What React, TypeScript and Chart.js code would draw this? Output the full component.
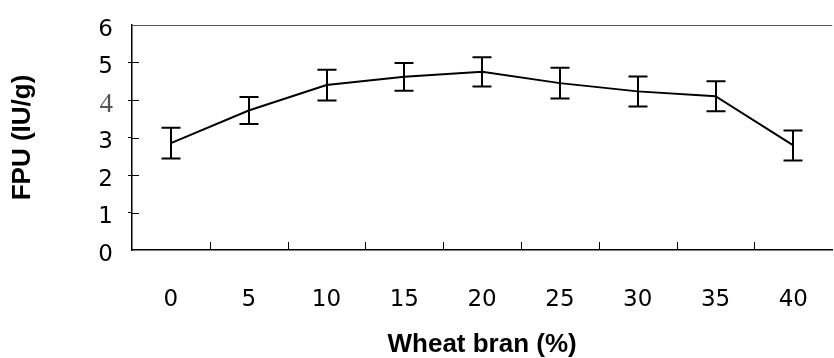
import React, { useEffect, useRef } from 'react';
import { Chart, registerables } from 'chart.js';

Chart.register(...registerables);

const categories = ['0', '5', '10', '15', '20', '25', '30', '35', '40'];
const fpuMeans = [2.85, 3.72, 4.4, 4.62, 4.75, 4.45, 4.23, 4.1, 2.79];
const fpuErrors = [0.41, 0.36, 0.41, 0.37, 0.39, 0.41, 0.4, 0.4, 0.4];
const yTickValues = [0, 1, 2, 3, 4, 5, 6];
const xTitle = 'Wheat bran (%)';
const yTitle = 'FPU (IU/g)';

const SANS = '"Liberation Sans", Arial, sans-serif';
const TICK_SANS = '"DejaVu Sans", "Liberation Sans", Arial, sans-serif';
const SERIF = '"Liberation Serif", "Times New Roman", serif';

const decorPlugin = {
  id: 'decor',
  afterDatasetsDraw(chart: any) {
    const { ctx, chartArea, scales } = chart;
    const x = scales.x;
    const y = scales.y;
    ctx.save();
    // top border
    ctx.strokeStyle = '#555';
    ctx.lineWidth = 1;
    ctx.beginPath();
    ctx.moveTo(chartArea.left, Math.round(chartArea.top) + 0.5);
    ctx.lineTo(chartArea.right, Math.round(chartArea.top) + 0.5);
    ctx.stroke();
    // inner ticks
    ctx.strokeStyle = '#000';
    ctx.beginPath();
    for (let i = 1; i < categories.length; i++) {
      const px = Math.round((x.getPixelForValue(i - 1) + x.getPixelForValue(i)) / 2) + 0.5;
      ctx.moveTo(px, chartArea.bottom);
      ctx.lineTo(px, chartArea.bottom - 8);
    }
    yTickValues.forEach((v) => {
      if (v === 0 || v === 6) return;
      const py = Math.round(y.getPixelForValue(v)) + 0.5;
      ctx.moveTo(chartArea.left, py);
      ctx.lineTo(chartArea.left + 7, py);
    });
    ctx.stroke();
    // error bars
    ctx.lineWidth = 2;
    ctx.beginPath();
    fpuMeans.forEach((m, i) => {
      const px = Math.round(x.getPixelForValue(i));
      const top = y.getPixelForValue(m + fpuErrors[i]);
      const bot = y.getPixelForValue(m - fpuErrors[i]);
      ctx.moveTo(px, top);
      ctx.lineTo(px, bot);
      ctx.moveTo(px - 9.5, top);
      ctx.lineTo(px + 9.5, top);
      ctx.moveTo(px - 9.5, bot);
      ctx.lineTo(px + 9.5, bot);
    });
    ctx.stroke();
    ctx.restore();
  },
};

export default function App() {
  const canvasRef = useRef<HTMLCanvasElement | null>(null);

  useEffect(() => {
    const canvas = canvasRef.current;
    if (!canvas) return;
    const chart = new Chart(canvas, {
      type: 'line',
      data: {
        labels: categories,
        datasets: [
          {
            data: fpuMeans,
            borderColor: '#000',
            borderWidth: 2,
            pointRadius: 0,
            tension: 0,
            fill: false,
          },
        ],
      },
      options: {
        animation: false,
        responsive: false,
        maintainAspectRatio: false,
        layout: { padding: { top: 17, right: 1, left: 0, bottom: 0 } },
        plugins: {
          legend: { display: false },
          tooltip: { enabled: false },
        },
        scales: {
          x: {
            type: 'category',
            offset: true,
            grid: { display: false, drawTicks: false, offset: true },
            border: { display: true, color: '#000', width: 1.5 },
            ticks: {
              padding: 36,
              color: '#000',
              maxRotation: 0,
              autoSkip: false,
              font: { family: TICK_SANS, size: 23 },
            },
            title: {
              display: true,
              text: xTitle,
              color: '#000',
              font: { family: SANS, size: 26, weight: 'bold', lineHeight: 1 },
              padding: { top: 0, bottom: 0 },
            },
            afterFit: (s: any) => {
              s.height = 108;
            },
          },
          y: {
            min: 0,
            max: 6,
            afterBuildTicks: (s: any) => {
              s.ticks = yTickValues.map((v) => ({ value: v }));
            },
            grid: {
              drawOnChartArea: false,
              drawTicks: true,
              tickLength: 4,
              color: (c: any) =>
                c.tick && (c.tick.value === 0 || c.tick.value === 6) ? 'rgba(0,0,0,0)' : '#000',
            },
            border: { display: true, color: '#000', width: 1.5 },
            ticks: {
              padding: 15,
              callback: (v: any) => ['', String(v)],
              color: (c: any) => (c.tick && c.tick.value === 4 ? '#555' : '#000'),
              font: (c: any) =>
                c.tick && c.tick.value === 4
                  ? { family: SERIF, size: 27, lineHeight: '10px' }
                  : { family: TICK_SANS, size: 23, lineHeight: '10px' },
            },
            title: {
              display: true,
              text: yTitle,
              color: '#000',
              font: { family: SANS, size: 26, weight: 'bold', lineHeight: 1 },
              padding: { top: 10, bottom: 0 },
            },
            afterFit: (s: any) => {
              s.width = 132;
            },
          },
        },
      },
      plugins: [decorPlugin],
    } as any);
    return () => chart.destroy();
  }, []);

  return (
    <div
      style={{
        position: 'fixed',
        left: 0,
        top: 0,
        width: 834,
        height: 358,
        overflow: 'hidden',
        background: '#fff',
      }}
    >
      <canvas ref={canvasRef} width={844} height={358} style={{ display: 'block' }} />
    </div>
  );
}
